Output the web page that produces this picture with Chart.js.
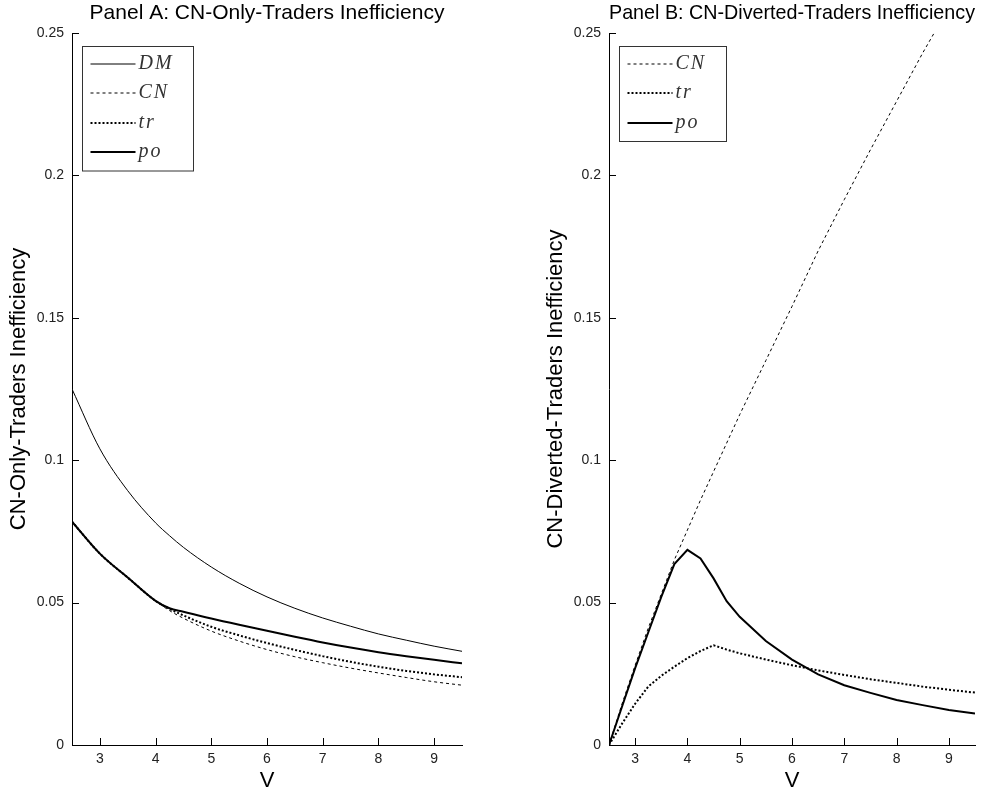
<!DOCTYPE html>
<html>
<head>
<meta charset="utf-8">
<script src="https://cdn.jsdelivr.net/npm/chart.js@4"></script>
<style>
  body { margin: 0; background: #fff; }
  #wrapA { position: absolute; left: 0; top: 0; }
  #wrapB { position: absolute; left: 497px; top: 0; }
</style>
</head>
<body>
<div id="wrapA"><canvas id="chartA" width="500" height="794"></canvas></div>
<div id="wrapB"><canvas id="chartB" width="500" height="794"></canvas></div>
<script>
// Panel A: CN-only traders
const vA = [2.5, 3, 3.5, 4, 4.25, 4.5, 5, 5.5, 6, 6.5, 7, 7.5, 8, 8.5, 9, 9.5];
const dmA = [0.125, 0.104, 0.0893, 0.078, 0.0735, 0.0694, 0.0625, 0.0568, 0.052, 0.048, 0.0446, 0.0417, 0.039, 0.0368, 0.0347, 0.0329];
const cnA = [0.0784, 0.0672, 0.0588, 0.0506, 0.0472, 0.0445, 0.04, 0.0365, 0.0335, 0.031, 0.0289, 0.027, 0.0253, 0.0237, 0.0222, 0.021];
const trA = [0.0784, 0.0672, 0.0588, 0.0506, 0.0478, 0.0455, 0.0415, 0.0385, 0.0358, 0.0334, 0.0312, 0.0292, 0.0275, 0.026, 0.0248, 0.0238];
const poA = [0.0784, 0.0672, 0.0588, 0.0506, 0.048, 0.0468, 0.0444, 0.0422, 0.0401, 0.038, 0.036, 0.0342, 0.0326, 0.0312, 0.0299, 0.0287];

// Panel B: CN-diverted traders
const vB = [2.5, 2.75, 3, 3.25, 3.5, 3.75, 4, 4.25, 4.5, 4.75, 5, 5.5, 6, 6.5, 7, 7.5, 8, 8.5, 9, 9.5];
const cnB = [0, 0.0145, 0.028, 0.041, 0.053, 0.065, 0.0755, 0.086, 0.096, 0.106, 0.116, 0.135, 0.154, 0.1735, 0.1915, 0.209, 0.226, 0.243, 0.259, 0.275];
const trB = [0, 0.0075, 0.0145, 0.0205, 0.0243, 0.0275, 0.0305, 0.033, 0.035, 0.0335, 0.0322, 0.03, 0.028, 0.0262, 0.0246, 0.0231, 0.0218, 0.0205, 0.0194, 0.0184];
const poB = [0, 0.0135, 0.027, 0.0395, 0.052, 0.0635, 0.0685, 0.0655, 0.0585, 0.0505, 0.045, 0.0365, 0.03, 0.0248, 0.021, 0.0183, 0.0158, 0.014, 0.0123, 0.0111];

const xTicks = [3, 4, 5, 6, 7, 8, 9];
const yTicks = [0, 0.05, 0.1, 0.15, 0.2, 0.25];
const yTickLabels = ['0', '0.05', '0.1', '0.15', '0.2', '0.25'];

const sans = '"Liberation Sans", Arial, Helvetica, sans-serif';

// line styles
const styles = {
  DM: { borderWidth: 1, borderDash: [] },
  CN: { borderWidth: 1, borderDash: [3, 3] },
  tr: { borderWidth: 2, borderDash: [2, 2] },
  po: { borderWidth: 2, borderDash: [] }
};

function pts(xs, ys) {
  return xs.map((x, i) => ({ x: x, y: ys[i] }));
}

// MATLAB-like ticks pointing into the plot
const inwardTicks = {
  id: 'inwardTicks',
  afterDraw(chart) {
    const { ctx, chartArea: a, scales: { x, y } } = chart;
    ctx.save();
    ctx.strokeStyle = '#000';
    ctx.lineWidth = 1;
    ctx.beginPath();
    x.ticks.forEach(t => {
      const px = Math.round(x.getPixelForValue(t.value)) + 0.5;
      ctx.moveTo(px, a.bottom);
      ctx.lineTo(px, a.bottom - 7);
    });
    y.ticks.forEach(t => {
      const py = Math.round(y.getPixelForValue(t.value)) + 0.5;
      ctx.moveTo(a.left, py);
      ctx.lineTo(a.left + 7, py);
    });
    ctx.stroke();
    ctx.restore();
  }
};

// legend box drawn inside the plot, upper left
const boxLegend = {
  id: 'boxLegend',
  afterDatasetsDraw(chart, args, opts) {
    const { ctx, chartArea: a } = chart;
    const ds = chart.data.datasets;
    const x0 = Math.round(a.left + opts.offsetX) + 0.5;
    const y0 = Math.round(a.top + opts.offsetY) + 0.5;
    const h = opts.firstRow + (ds.length - 1) * opts.rowGap + opts.bottomPad;
    ctx.save();
    ctx.fillStyle = '#fff';
    ctx.fillRect(x0, y0, opts.width, h);
    ctx.strokeStyle = '#333';
    ctx.lineWidth = 1;
    ctx.strokeRect(x0, y0, opts.width, h);
    ctx.font = 'italic 20px "Liberation Serif", "Times New Roman", serif';
    ctx.letterSpacing = '2px';
    ctx.textBaseline = 'middle';
    ds.forEach((d, i) => {
      const yy = Math.round(y0 + opts.firstRow + i * opts.rowGap);
      ctx.beginPath();
      ctx.setLineDash(d.borderDash || []);
      ctx.lineWidth = d.borderWidth;
      ctx.strokeStyle = d.borderColor;
      ctx.moveTo(x0 + opts.lineStart, yy);
      ctx.lineTo(x0 + opts.lineStart + opts.lineLen, yy);
      ctx.stroke();
      ctx.setLineDash([]);
      ctx.fillStyle = '#333';
      ctx.fillText(d.label, x0 + opts.lineStart + opts.lineLen + 3, yy);
    });
    ctx.restore();
  }
};

function makePanel(id, title, yTitle, series, smooth, pad, legendW) {
  return new Chart(document.getElementById(id), {
    type: 'line',
    data: {
      datasets: series.map(s => ({
        label: s.label,
        data: s.data,
        borderColor: '#000',
        borderWidth: styles[s.label].borderWidth,
        borderDash: styles[s.label].borderDash,
        pointRadius: 0,
        fill: false,
        tension: 0,
        cubicInterpolationMode: smooth ? 'monotone' : 'default'
      }))
    },
    options: {
      responsive: false,
      animation: false,
      devicePixelRatio: 1,
      layout: { padding: { left: pad.left, right: pad.right, top: 0, bottom: 0 } },
      plugins: {
        legend: { display: false },
        tooltip: { enabled: false },
        title: {
          display: true,
          text: title,
          fullSize: false,
          color: '#000',
          font: { family: sans, size: 21, weight: 'normal', lineHeight: 1.2 },
          padding: { top: 1, bottom: 6.8 }
        },
        boxLegend: {
          offsetX: 10, offsetY: 13, width: legendW,
          firstRow: 17, rowGap: 29.5, bottomPad: 19,
          lineStart: 8, lineLen: 45
        }
      },
      scales: {
        x: {
          type: 'linear',
          min: 2.5,
          max: 9.5,
          afterBuildTicks: s => { s.ticks = xTicks.map(v => ({ value: v })); },
          afterFit: s => { s.height = 49; },
          grid: { display: false },
          border: { display: true, color: '#000', width: 1 },
          ticks: {
            color: '#222',
            padding: -2,
            font: { family: sans, size: 14 },
            callback: v => String(v)
          },
          title: {
            display: true,
            text: 'V',
            color: '#000',
            font: { family: sans, size: 22 },
            padding: { top: 0, bottom: 0 }
          }
        },
        y: {
          type: 'linear',
          min: 0,
          max: 0.25,
          afterBuildTicks: s => { s.ticks = yTicks.map(v => ({ value: v })); },
          afterFit: s => { s.width = 72; },
          grid: { display: false },
          border: { display: true, color: '#000', width: 1 },
          ticks: {
            color: '#222',
            padding: 0,
            font: { family: sans, size: 14 },
            callback: (v, i) => yTickLabels[i]
          },
          title: {
            display: true,
            text: yTitle,
            color: '#000',
            font: { family: sans, size: 22 },
            padding: { top: 6, bottom: 0 }
          }
        }
      }
    },
    plugins: [inwardTicks, boxLegend]
  });
}

makePanel('chartA', 'Panel A: CN-Only-Traders Inefficiency', 'CN-Only-Traders Inefficiency', [
  { label: 'DM', data: pts(vA, dmA) },
  { label: 'CN', data: pts(vA, cnA) },
  { label: 'tr', data: pts(vA, trA) },
  { label: 'po', data: pts(vA, poA) }
], true, { left: 0, right: 38 }, 111);

makePanel('chartB', 'Panel B: CN-Diverted-Traders Inefficiency', 'CN-Diverted-Traders Inefficiency', [
  { label: 'CN', data: pts(vB, cnB) },
  { label: 'tr', data: pts(vB, trB) },
  { label: 'po', data: pts(vB, poB) }
], false, { left: 40, right: 22 }, 107);
</script>
</body>
</html>
